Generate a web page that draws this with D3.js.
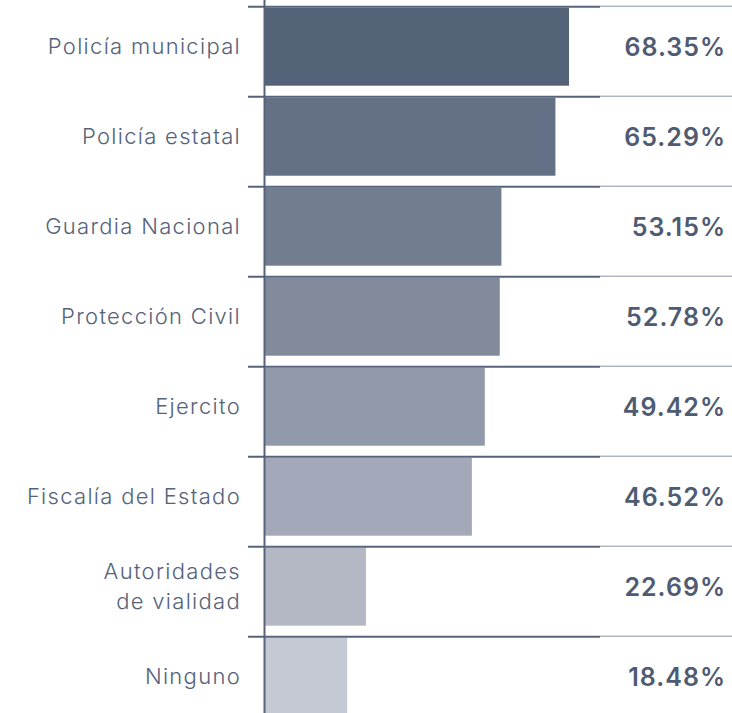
<!DOCTYPE html>
<html lang="es">
<head>
    <meta charset="UTF-8">
    <title>Confianza en autoridades</title>
    <script src="https://d3js.org/d3.v7.min.js"></script>
    <style>
        html, body { margin: 0; padding: 0; background: #fff; }
        svg { display: block; }
    </style>
</head>
<body>
<svg width="732" height="713"></svg>

<script>
    const categories = ["Policía municipal", "Policía estatal", "Guardia Nacional", "Protección Civil",
        "Ejercito", "Fiscalía del Estado", "Autoridades de vialidad", "Ninguno"];
    const labelLines = [["Policía municipal"], ["Policía estatal"], ["Guardia Nacional"], ["Protección Civil"],
        ["Ejercito"], ["Fiscalía del Estado"], ["Autoridades", "de vialidad"], ["Ninguno"]];
    const values = [68.35, 65.29, 53.15, 52.78, 49.42, 46.52, 22.69, 18.48];
    const colors = ["#556379", "#637086", "#737d90", "#818b9c", "#919aaa", "#a3a9b8", "#b4b8c5", "#c5c9d3"];

    const width = 732, height = 713;
    const axisX = 265;

    const data = categories.map((c, i) => ({name: c, lines: labelLines[i], value: values[i], color: colors[i]}));

    const svg = d3.select("svg")
        .attr("width", width)
        .attr("height", height);

    const x = d3.scaleLinear()
        .domain([0, 100])
        .range([axisX, axisX + 444.8]);

    const y = d3.scaleBand()
        .domain(categories)
        .range([6.7, 6.7 + 90 * categories.length]);

    // bars
    svg.append("g")
        .selectAll("rect")
        .data(data)
        .enter()
        .append("rect")
        .attr("x", axisX)
        .attr("y", d => y(d.name) + 1)
        .attr("width", d => x(d.value) - axisX)
        .attr("height", 78)
        .attr("fill", d => d.color);

    // row separators
    const sep = svg.append("g");
    sep.selectAll("line.dark")
        .data(data)
        .enter()
        .append("line")
        .attr("class", "dark")
        .attr("x1", 248).attr("x2", 600)
        .attr("y1", d => y(d.name)).attr("y2", d => y(d.name))
        .attr("stroke", "#56637a")
        .attr("stroke-width", 2);
    sep.selectAll("line.light")
        .data(data)
        .enter()
        .append("line")
        .attr("class", "light")
        .attr("x1", 600).attr("x2", width)
        .attr("y1", d => y(d.name) - 0.5).attr("y2", d => y(d.name) - 0.5)
        .attr("stroke", "#8a94a6")
        .attr("stroke-width", 1);

    // vertical axis
    svg.append("line")
        .attr("x1", axisX - 0.5).attr("x2", axisX - 0.5)
        .attr("y1", 0).attr("y2", height)
        .attr("stroke", "#56637a")
        .attr("stroke-width", 2);

    // category labels
    const labels = svg.append("g")
        .attr("font-family", "Inter, 'Noto Sans', sans-serif")
        .attr("font-size", 22)
        .attr("font-weight", 300)
        .attr("letter-spacing", 1.3)
        .attr("fill", "#55627a")
        .attr("text-anchor", "end");

    labels.selectAll("text")
        .data(data)
        .enter()
        .append("text")
        .attr("x", 241)
        .attr("y", d => y(d.name) + 47)
        .each(function(d) {
            const t = d3.select(this);
            const n = d.lines.length;
            d.lines.forEach((line, i) => {
                t.append("tspan")
                    .attr("x", 241)
                    .attr("dy", i === 0 ? (-(n - 1) * 15) : 30)
                    .text(line);
            });
        });

    // value labels
    svg.append("g")
        .attr("font-family", "Inter, 'Noto Sans', sans-serif")
        .attr("font-size", 25)
        .attr("font-weight", 600)
        .attr("letter-spacing", 1)
        .attr("fill", "#4e5b72")
        .attr("text-anchor", "end")
        .selectAll("text")
        .data(data)
        .enter()
        .append("text")
        .attr("x", 726)
        .attr("y", d => y(d.name) + 49)
        .text(d => d3.format(".2f")(d.value) + "%");
</script>
</body>
</html>
